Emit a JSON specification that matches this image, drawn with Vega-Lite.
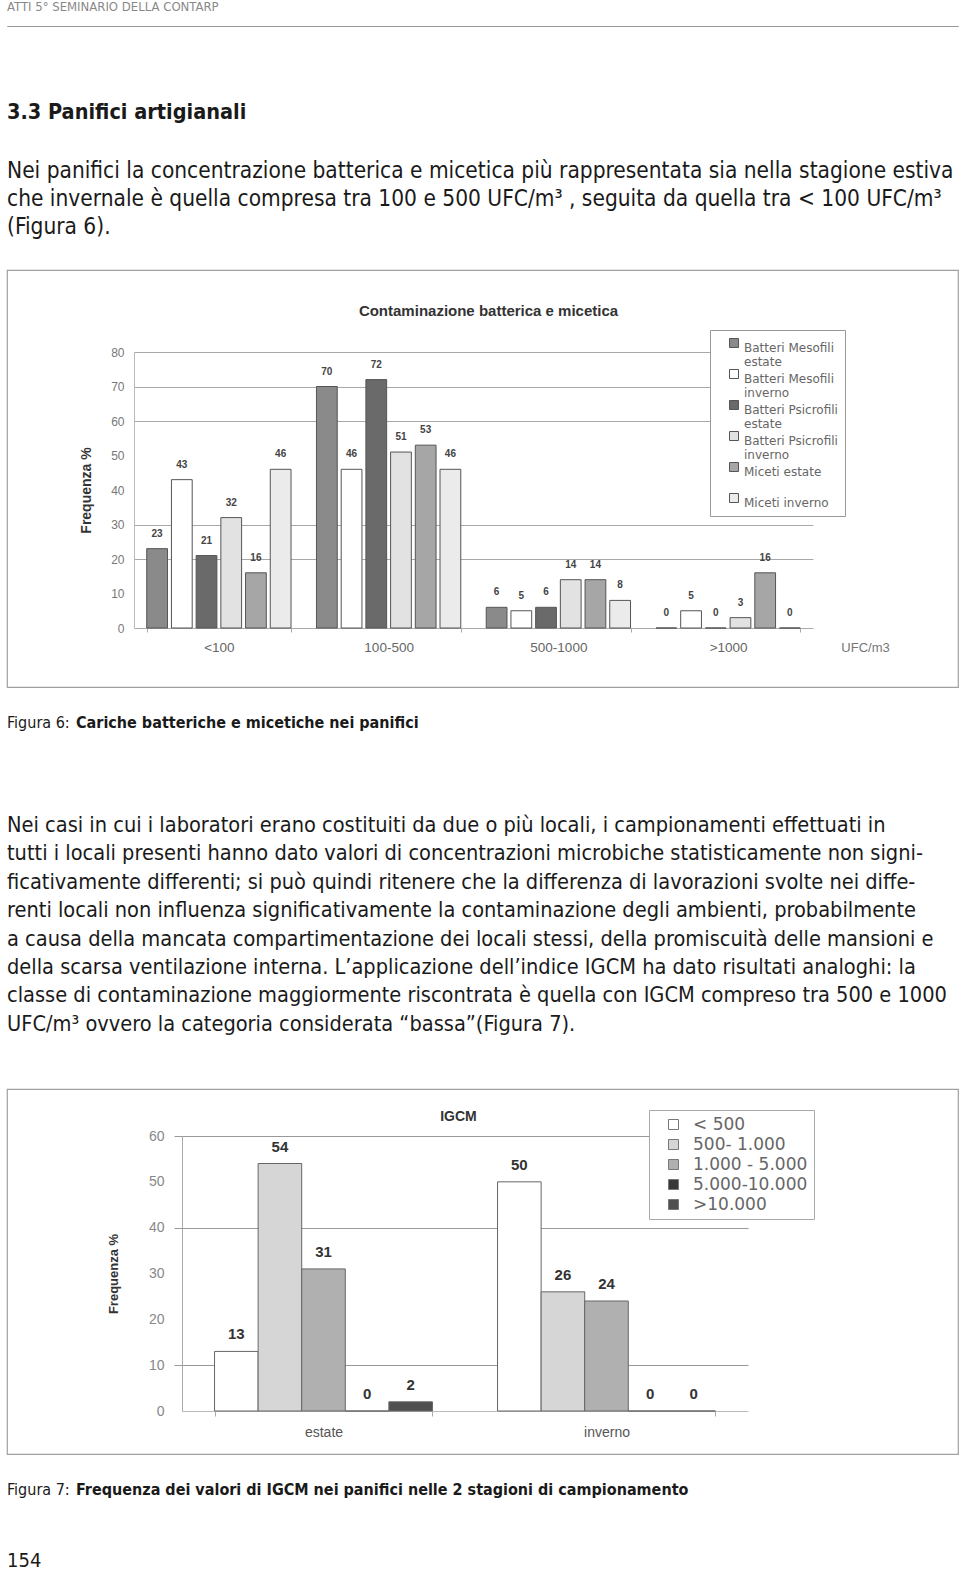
{
  "$schema": "https://vega.github.io/schema/vega-lite/v6.json",
  "background": "white",
  "padding": {"left": 6, "top": 0, "right": 3, "bottom": 0},
  "spacing": 0,
  "config": {
    "view": {"stroke": null},
    "font": "Liberation Sans, Arial, sans-serif"
  },
  "resolve": {
    "scale": {"x": "independent", "y": "independent", "color": "independent", "xOffset": "independent"},
    "axis": {"x": "independent", "y": "independent"},
    "legend": {"color": "independent"}
  },
  "datasets": {
    "f6": [
      {"classe": "<100", "serie": "Batteri Mesofili estate", "v": 23},
      {"classe": "<100", "serie": "Batteri Mesofili inverno", "v": 43},
      {"classe": "<100", "serie": "Batteri Psicrofili estate", "v": 21},
      {"classe": "<100", "serie": "Batteri Psicrofili inverno", "v": 32},
      {"classe": "<100", "serie": "Miceti estate", "v": 16},
      {"classe": "<100", "serie": "Miceti inverno", "v": 46},
      {"classe": "100-500", "serie": "Batteri Mesofili estate", "v": 70},
      {"classe": "100-500", "serie": "Batteri Mesofili inverno", "v": 46},
      {"classe": "100-500", "serie": "Batteri Psicrofili estate", "v": 72},
      {"classe": "100-500", "serie": "Batteri Psicrofili inverno", "v": 51},
      {"classe": "100-500", "serie": "Miceti estate", "v": 53},
      {"classe": "100-500", "serie": "Miceti inverno", "v": 46},
      {"classe": "500-1000", "serie": "Batteri Mesofili estate", "v": 6},
      {"classe": "500-1000", "serie": "Batteri Mesofili inverno", "v": 5},
      {"classe": "500-1000", "serie": "Batteri Psicrofili estate", "v": 6},
      {"classe": "500-1000", "serie": "Batteri Psicrofili inverno", "v": 14},
      {"classe": "500-1000", "serie": "Miceti estate", "v": 14},
      {"classe": "500-1000", "serie": "Miceti inverno", "v": 8},
      {"classe": ">1000", "serie": "Batteri Mesofili estate", "v": 0},
      {"classe": ">1000", "serie": "Batteri Mesofili inverno", "v": 5},
      {"classe": ">1000", "serie": "Batteri Psicrofili estate", "v": 0},
      {"classe": ">1000", "serie": "Batteri Psicrofili inverno", "v": 3},
      {"classe": ">1000", "serie": "Miceti estate", "v": 16},
      {"classe": ">1000", "serie": "Miceti inverno", "v": 0}
    ],
    "f7": [
      {"stagione": "estate", "igcm": "< 500", "v": 13},
      {"stagione": "estate", "igcm": "500- 1.000", "v": 54},
      {"stagione": "estate", "igcm": "1.000 - 5.000", "v": 31},
      {"stagione": "estate", "igcm": "5.000-10.000", "v": 0},
      {"stagione": "estate", "igcm": ">10.000", "v": 2},
      {"stagione": "inverno", "igcm": "< 500", "v": 50},
      {"stagione": "inverno", "igcm": "500- 1.000", "v": 26},
      {"stagione": "inverno", "igcm": "1.000 - 5.000", "v": 24},
      {"stagione": "inverno", "igcm": "5.000-10.000", "v": 0},
      {"stagione": "inverno", "igcm": ">10.000", "v": 0}
    ]
  },
  "vconcat": [
    {
      "width": 951, "height": 0.01,
      "view": {"stroke": "#9a9a9a", "strokeWidth": 1},
      "data": {"values": []},
      "mark": "point",
      "encoding": {},
      "title": {"text": "ATTI 5° SEMINARIO DELLA CONTARP", "anchor": "start", "frame": "group", "font": "DejaVu Sans Condensed, DejaVu Sans, sans-serif", "fontSize": 13, "fontWeight": "normal", "color": "#888888", "offset": 12}
    },
    {
      "width": 951, "height": 75,
      "data": {"values": []},
      "mark": "point",
      "encoding": {},
      "title": {
        "text": "3.3 Panifici artigianali",
        "subtitle": [
          "Nei panifici la concentrazione batterica e micetica più rappresentata sia nella stagione estiva",
          "che invernale è quella compresa tra 100 e 500 UFC/m³ , seguita da quella tra < 100 UFC/m³",
          "(Figura 6)."
        ],
        "orient": "bottom", "anchor": "start", "frame": "group", "offset": 0,
        "font": "DejaVu Sans Condensed, DejaVu Sans, sans-serif", "fontSize": 21.5, "fontWeight": "bold", "color": "#1a1a1a",
        "subtitleFont": "DejaVu Sans Condensed, DejaVu Sans, sans-serif", "subtitleFontSize": 22.5, "subtitleColor": "#1a1a1a", "subtitleLineHeight": 28.4, "subtitlePadding": 36
      }
    },
    {"width": 951, "height": 30, "data": {"values": []}, "mark": "point", "encoding": {}},
    {
      "width": 951, "height": 417,
      "view": {"stroke": "#a0a0a0", "strokeWidth": 1.2},
      "data": {"name": "f6"},
      "title": {"text": "Contaminazione batterica e micetica", "fontSize": 15, "fontWeight": "bold", "color": "#333333", "offset": -49, "frame": "group", "anchor": "middle", "dx": 6},
      "layer": [
        {
          "mark": {"type": "bar", "stroke": "#555555", "strokeWidth": 1},
          "encoding": {
            "x": {"field": "classe", "type": "nominal", "sort": ["<100", "100-500", "500-1000", ">1000"],
              "scale": {"range": [127, 806], "paddingInner": 0.15, "paddingOuter": 0.075},
              "axis": {"orient": "bottom", "offset": -59, "labelAngle": 0, "labelFontSize": 13.5, "labelColor": "#666666", "labelPadding": 8, "tickBand": "extent", "tickSize": 4, "tickColor": "#aaaaaa", "domainColor": "#aaaaaa",
                "title": "UFC/m3", "titleX": 858, "titleY": 19, "titleAlign": "center", "titleBaseline": "middle", "titleAnchor": null, "titleFontWeight": "normal", "titleFontSize": 13, "titleColor": "#777777"}},
            "xOffset": {"field": "serie", "type": "nominal", "sort": ["Batteri Mesofili estate", "Batteri Mesofili inverno", "Batteri Psicrofili estate", "Batteri Psicrofili inverno", "Miceti estate", "Miceti inverno"], "scale": {"paddingInner": 0.16}},
            "y": {"field": "v", "type": "quantitative", "scale": {"domain": [0, 80], "range": [358, 82]},
              "axis": {"orient": "left", "offset": -127, "values": [0, 10, 20, 30, 40, 50, 60, 70, 80], "grid": false, "ticks": false, "domainColor": "#bbbbbb", "labelFontSize": 12, "labelColor": "#777777", "labelPadding": 10,
                "title": "Frequenza %", "titleFontSize": 14, "titleColor": "#333333", "titleFontWeight": "bold", "titlePadding": 17}},
            "color": {"field": "serie", "type": "nominal",
              "scale": {"domain": ["Batteri Mesofili estate", "Batteri Mesofili inverno", "Batteri Psicrofili estate", "Batteri Psicrofili inverno", "Miceti estate", "Miceti inverno"],
                "range": ["#8a8a8a", "#ffffff", "#6a6a6a", "#e2e2e2", "#a6a6a6", "#ebebeb"]},
              "legend": {"orient": "none", "legendX": 703, "legendY": 60, "title": null, "strokeColor": "#999999", "fillColor": "#ffffff", "padding": 7, "symbolType": "square", "symbolSize": 81, "symbolStrokeColor": "#555555", "symbolStrokeWidth": 1, "symbolOffset": 11,
                "labelFont": "DejaVu Sans, sans-serif", "labelFontSize": 12, "labelColor": "#666666", "labelLimit": 300, "labelOffset": 4, "labelBaseline": "top", "gridAlign": "all", "rowPadding": -5,
                "labelExpr": "indexof(datum.label, 'Batteri') == 0 ? [slice(datum.label, 0, lastindexof(datum.label, ' ')), slice(datum.label, lastindexof(datum.label, ' ') + 1)] : datum.label"}}
          }
        },
        {
          "mark": {"type": "text", "fontSize": 10, "fontWeight": "bold", "color": "#444444", "baseline": "middle", "dy": -15},
          "encoding": {
            "x": {"field": "classe", "type": "nominal", "sort": ["<100", "100-500", "500-1000", ">1000"]},
            "xOffset": {"field": "serie", "type": "nominal", "sort": ["Batteri Mesofili estate", "Batteri Mesofili inverno", "Batteri Psicrofili estate", "Batteri Psicrofili inverno", "Miceti estate", "Miceti inverno"]},
            "y": {"field": "v", "type": "quantitative",
              "axis": {"orient": "left", "offset": -127, "values": [20, 30, 60, 70, 80], "grid": true, "gridColor": "#a8a8a8", "labels": false, "ticks": false, "domain": false, "title": null}},
            "text": {"field": "v", "type": "quantitative"}
          }
        }
      ],
      "resolve": {"axis": {"y": "independent"}}
    },
    {
      "hconcat": [
        {
          "width": 0.01, "height": 27, "data": {"values": []}, "mark": "point", "encoding": {},
          "title": {"text": "Figura 6:", "orient": "bottom", "anchor": "start", "frame": "group", "offset": 0, "font": "DejaVu Sans Condensed, DejaVu Sans, sans-serif", "fontSize": 16, "fontWeight": "normal", "color": "#1a1a1a"}
        },
        {
          "width": 0.01, "height": 27, "data": {"values": []}, "mark": "point", "encoding": {},
          "title": {"text": "Cariche batteriche e micetiche nei panifici", "orient": "bottom", "anchor": "start", "frame": "group", "offset": 0, "font": "DejaVu Sans Condensed, DejaVu Sans, sans-serif", "fontSize": 16, "fontWeight": "bold", "color": "#1a1a1a"}
        }
      ],
      "spacing": 6
    },
    {
      "width": 951, "height": 84,
      "data": {"values": []},
      "mark": "point",
      "encoding": {},
      "title": {
        "text": [
          "Nei casi in cui i laboratori erano costituiti da due o più locali, i campionamenti effettuati in",
          "tutti i locali presenti hanno dato valori di concentrazioni microbiche statisticamente non signi-",
          "ficativamente differenti; si può quindi ritenere che la differenza di lavorazioni svolte nei diffe-",
          "renti locali non influenza significativamente la contaminazione degli ambienti, probabilmente",
          "a causa della mancata compartimentazione dei locali stessi, della promiscuità delle mansioni e",
          "della scarsa ventilazione interna. L’applicazione dell’indice IGCM ha dato risultati analoghi: la",
          "classe di contaminazione maggiormente riscontrata è quella con IGCM compreso tra 500 e 1000",
          "UFC/m³ ovvero la categoria considerata “bassa”(Figura 7)."
        ],
        "orient": "bottom", "anchor": "start", "frame": "group", "offset": 0,
        "font": "DejaVu Sans Condensed, DejaVu Sans, sans-serif", "fontSize": 21.6, "fontWeight": "normal", "color": "#1a1a1a", "lineHeight": 28.4
      }
    },
    {"width": 951, "height": 52, "data": {"values": []}, "mark": "point", "encoding": {}},
    {
      "width": 951, "height": 365,
      "view": {"stroke": "#a0a0a0", "strokeWidth": 1.2},
      "data": {"name": "f7"},
      "title": {"text": "IGCM", "fontSize": 14, "fontWeight": "bold", "color": "#333333", "offset": -35, "frame": "group", "anchor": "middle", "dx": -24},
      "layer": [
        {
          "mark": {"type": "bar", "stroke": "#666666", "strokeWidth": 1},
          "encoding": {
            "x": {"field": "stagione", "type": "nominal", "sort": ["estate", "inverno"],
              "scale": {"range": [175, 741], "paddingInner": 0.23, "paddingOuter": 0.115},
              "axis": {"orient": "bottom", "offset": -43, "labelAngle": 0, "labelFontSize": 14, "labelColor": "#555555", "labelPadding": 9, "tickBand": "extent", "tickSize": 5, "tickColor": "#aaaaaa", "domainColor": "#bbbbbb", "title": null}},
            "xOffset": {"field": "igcm", "type": "nominal", "sort": ["< 500", "500- 1.000", "1.000 - 5.000", "5.000-10.000", ">10.000"], "scale": {"paddingInner": 0, "paddingOuter": 0}},
            "y": {"field": "v", "type": "quantitative", "scale": {"domain": [0, 60], "range": [322, 47]},
              "axis": {"orient": "left", "offset": -175, "values": [0, 10, 20, 30, 40, 50, 60], "grid": false, "ticks": false, "domainColor": "#aaaaaa", "labelFontSize": 14, "labelColor": "#888888", "labelPadding": 18,
                "title": "Frequenza %", "titleFontSize": 13, "titleColor": "#333333", "titleFontWeight": "bold", "titlePadding": 28}},
            "color": {"field": "igcm", "type": "nominal",
              "scale": {"domain": ["< 500", "500- 1.000", "1.000 - 5.000", "5.000-10.000", ">10.000"],
                "range": ["#ffffff", "#d6d6d6", "#b0b0b0", "#383838", "#505050"]},
              "legend": {"orient": "none", "legendX": 642, "legendY": 21, "title": null, "strokeColor": "#aaaaaa", "fillColor": "#ffffff", "padding": 6, "symbolType": "square", "symbolSize": 100, "symbolStrokeColor": "#777777", "symbolStrokeWidth": 1, "symbolOffset": 10,
                "labelFont": "DejaVu Sans, sans-serif", "labelFontSize": 17, "labelColor": "#666666", "labelLimit": 300, "labelOffset": 11, "rowPadding": 2}}
          }
        },
        {
          "mark": {"type": "text", "fontSize": 15, "fontWeight": "bold", "color": "#333333", "baseline": "middle", "dy": -17},
          "encoding": {
            "x": {"field": "stagione", "type": "nominal", "sort": ["estate", "inverno"]},
            "xOffset": {"field": "igcm", "type": "nominal", "sort": ["< 500", "500- 1.000", "1.000 - 5.000", "5.000-10.000", ">10.000"]},
            "y": {"field": "v", "type": "quantitative",
              "axis": {"orient": "left", "offset": -175, "values": [10, 40, 60], "grid": true, "gridColor": "#999999", "labels": false, "ticks": true, "tickSize": 8, "tickColor": "#999999", "domain": false, "title": null}},
            "text": {"field": "v", "type": "quantitative"}
          }
        }
      ],
      "resolve": {"axis": {"y": "independent"}}
    },
    {
      "hconcat": [
        {
          "width": 0.01, "height": 27, "data": {"values": []}, "mark": "point", "encoding": {},
          "title": {"text": "Figura 7:", "orient": "bottom", "anchor": "start", "frame": "group", "offset": 0, "font": "DejaVu Sans Condensed, DejaVu Sans, sans-serif", "fontSize": 16, "fontWeight": "normal", "color": "#1a1a1a"}
        },
        {
          "width": 0.01, "height": 27, "data": {"values": []}, "mark": "point", "encoding": {},
          "title": {"text": "Frequenza dei valori di IGCM nei panifici nelle 2 stagioni di campionamento", "orient": "bottom", "anchor": "start", "frame": "group", "offset": 0, "font": "DejaVu Sans Condensed, DejaVu Sans, sans-serif", "fontSize": 16, "fontWeight": "bold", "color": "#1a1a1a"}
        }
      ],
      "spacing": 6
    },
    {
      "width": 951, "height": 53,
      "data": {"values": []},
      "mark": "point",
      "encoding": {},
      "title": {"text": "154", "orient": "bottom", "anchor": "start", "frame": "group", "offset": 0, "font": "DejaVu Sans Condensed, DejaVu Sans, sans-serif", "fontSize": 20, "fontWeight": "normal", "color": "#1a1a1a"}
    }
  ]
}
